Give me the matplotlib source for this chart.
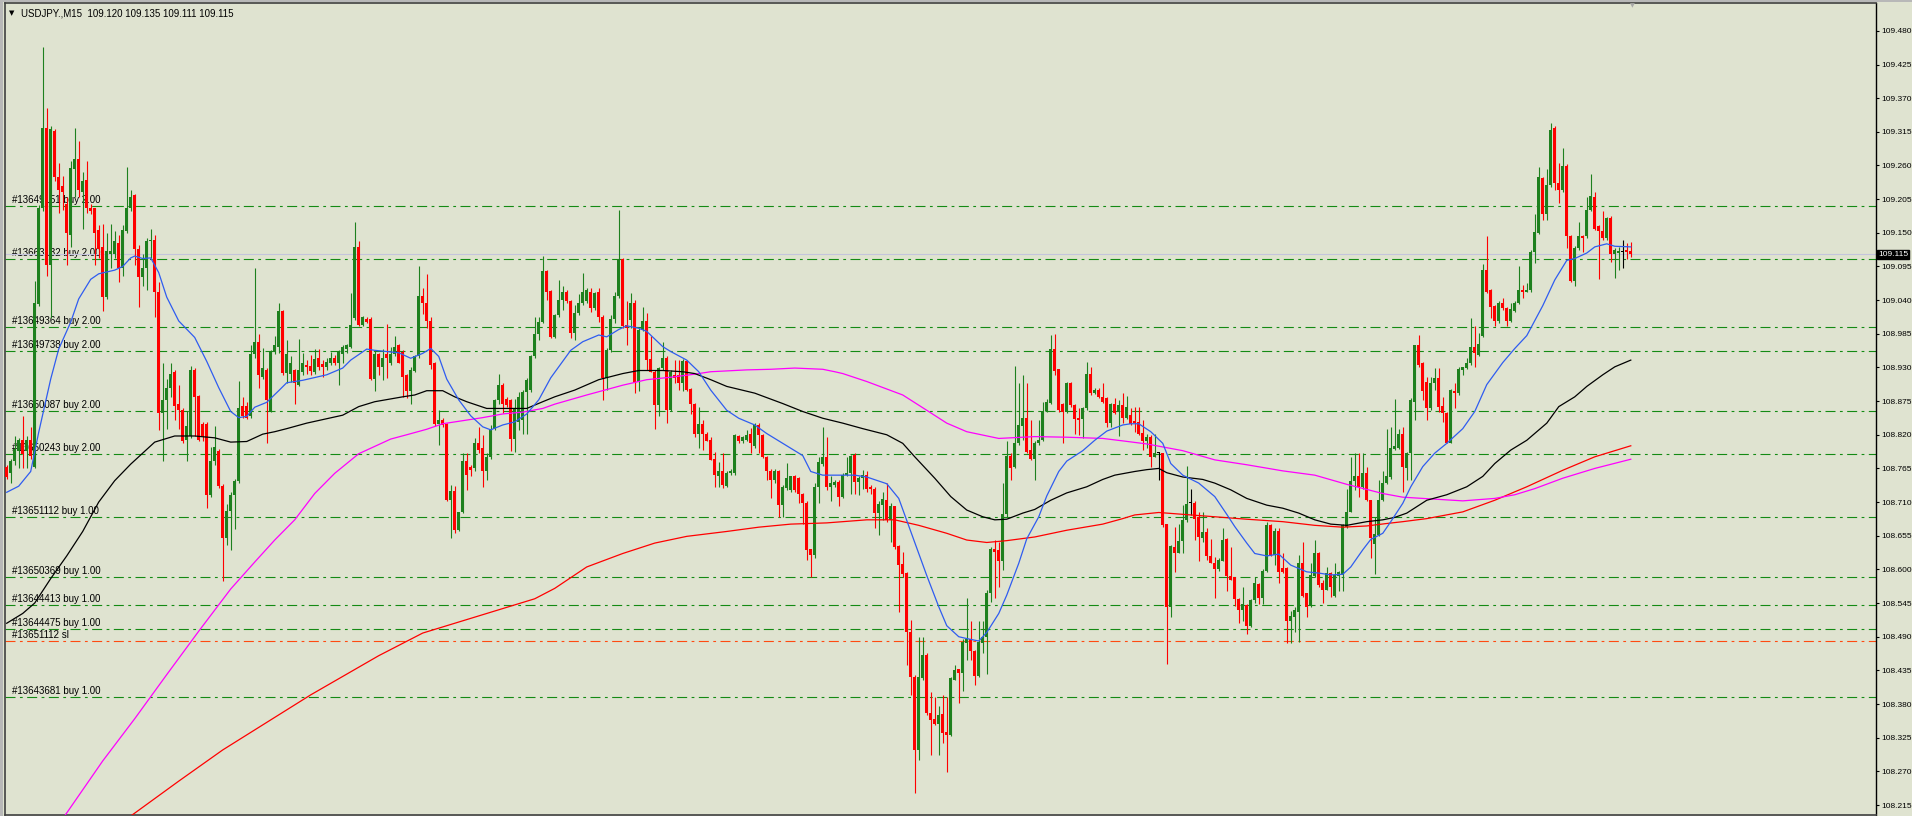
import numpy as np
import matplotlib.pyplot as plt
from matplotlib.patches import Rectangle

plt.rcParams['font.family'] = ['Liberation Sans', 'DejaVu Sans']

# USDJPY M15 candles, prices in points above 108.000 (1 point = 0.001)
base = 108.0
opens = [768,757,777,794,812,794,812,768,1034,1191, 1322,1098,1316,1241,1226,1197,1147,1255,1270,1217,
         1236,1190,1190,1155,1127,1045,1115,1115,1133,1092, 1153,1191,1212,1124,1077,1092,1136,1139,1054,856,
         876,896,923,871,861,812,818,926,884,838, 838,721,777,794,736,651,695,721,745,867,
         867,850,952,971,914,926,859,955,964,1022, 921,920,926,901,923,934,933,923,945,936,
         931,937,946,937,952,960,964,1010,1126,999, 1009,1009,911,952,931,952,937,952,966,956,
         918,891,925,948,1046,1035,1006,938,838,844, 838,713,728,664,693,777,768,765,807,798,
         760,783,830,877,901,878,877,813,841,844, 890,893,948,984,1005,1088,1055,980,1016,1040,
         1054,1039,986,1019,1035,1038,1054,1027,1054,1013, 912,959,1009,1046,1108,999,1008,1036,907,991,
         1006,943,923,869,929,945,861,918,918,904, 941,894,871,822,838,821,812,780,752,760,
         736,757,757,818,810,812,822,801,836,820, 784,761,746,761,705,733,730,752,749,724,
         708,633,624,735,773,784,735,738,743,719, 754,757,787,743,749,754,735,732,692,705,
         713,681,703,638,609,594,498,424,305,422, 460,366,355,348,364,335,329,420,437,430,
         479,487,467,426,480,490,561,634,632,613, 690,785,767,806,834,848,795,780,806,811,
         859,872,960,927,871,858,905,869,848,845, 863,920,889,893,882,880,839,871,858,869,
         848,852,843,841,823,809,816,784,790,790, 674,538,637,627,647,681,708,708,685,652,
         661,622,611,600,614,650,589,587,551,533, 542,507,550,576,554,598,673,623,663,603,
         603,516,523,531,610,561,540,589,626,577, 567,594,557,589,591,670,694,745,752,735,
         757,713,641,656,713,741,751,796,799,822, 765,790,874,966,937,907,863,904,912,867,
         856,807,892,888,926,929,937,963,950,981, 1089,1057,1030,1006,1035,1027,1006,1023,1035,1057,
         1054,1056,1119,1150,1239,1181,1228,1321,1232,1220, 1259,1145,1072,1125,1145,1144,1187,1208,1161,1153,
         1141,1175,1115,1117,1119,1122,1120]
highs = [770,780,818,815,850,818,832,1071,1195,1454, 1354,1325,1319,1264,1243,1209,1267,1322,1300,1249,
         1267,1197,1191,1162,1165,1150,1165,1153,1147,1162, 1258,1220,1214,1130,1115,1141,1156,1147,1069,937,
         911,937,926,902,864,859,932,929,885,841, 841,800,835,797,739,707,727,748,908,882,
         873,967,1092,984,961,929,958,981,1035,1024, 975,948,928,976,953,942,950,960,960,942,
         945,956,950,958,967,969,1051,1168,1137,1014, 1013,1013,958,953,960,1001,964,981,968,958,
         920,931,950,1096,1059,1083,1013,939,860,847, 839,738,736,694,791,790,771,814,833,820,
         790,836,879,919,905,882,878,878,890,893, 912,950,1013,1013,1112,1089,1057,1018,1073,1063,
         1057,1040,1032,1050,1084,1059,1059,1054,1059,1016, 961,1016,1054,1188,1109,1038,1051,1040,994,1029,
         1019,981,926,931,971,948,926,942,942,943, 942,896,872,866,844,824,817,792,776,790,
         760,764,822,820,818,828,831,839,839,822, 785,764,764,762,738,774,753,754,751,725,
         711,634,741,784,833,817,752,746,746,757, 784,787,790,752,762,761,738,735,711,727,
         742,709,704,640,629,595,518,427,490,490, 463,400,392,376,395,392,425,444,438,487,
         554,515,468,515,515,566,637,648,645,741, 809,790,932,904,918,904,844,809,844,874,
         878,983,985,928,872,907,907,871,863,865, 939,930,896,896,905,882,872,880,877,888,
         883,863,865,866,844,822,820,822,792,791, 675,640,670,675,705,769,732,711,693,693,
         667,649,620,618,667,651,637,588,553,572, 543,551,588,578,600,678,675,667,667,626,
         604,532,539,624,644,562,610,648,629,583, 604,596,610,598,674,732,783,791,791,791,
         768,714,686,746,761,830,832,878,829,832, 792,880,967,983,939,915,915,929,929,882,
         858,894,905,931,931,945,1010,997,986,1099, 1144,1058,1032,1038,1043,1029,1036,1038,1096,1065,
         1068,1122,1181,1257,1242,1255,1330,1324,1264,1288, 1262,1146,1128,1167,1147,1208,1246,1217,1163,1185,
         1176,1177,1125,1127,1138,1134,1135]
lows = [748,742,771,765,765,765,780,765,1030,1185, 1080,1010,1235,1182,1188,1098,1127,1209,1209,1156,
        1182,1180,1098,1109,1022,1042,1092,1109,1069,1080, 1150,1185,1098,1028,1063,1057,1109,1013,827,777,
        829,882,844,829,807,777,815,818,809,809, 701,718,771,733,581,640,631,666,742,847,
        845,847,946,897,911,806,857,952,953,918, 904,907,870,899,918,920,918,920,926,915,
        926,934,934,901,937,953,961,1008,997,998, 1003,909,892,918,909,912,934,948,937,881,
        880,870,923,945,1018,994,928,834,803,833, 711,652,659,663,692,730,752,761,790,734,
        746,781,828,870,855,865,794,792,828,822, 822,890,945,975,1002,1040,978,978,1013,1024,
        1035,978,975,1016,1032,1035,1021,1024,1005,877, 893,956,1002,1043,994,967,994,888,891,989,
        926,922,829,850,926,839,859,904,893,891, 891,854,817,798,795,809,778,735,735,733,
        734,754,754,806,806,809,790,798,790,782, 746,716,741,686,686,730,727,727,708,675,
        615,588,618,708,769,730,711,735,703,716, 752,724,723,722,732,727,724,667,656,681,
        678,644,634,531,588,444,395,235,289,419, 362,297,346,297,316,269,328,419,382,402,
        452,452,411,425,463,429,547,553,572,599, 686,746,765,803,811,790,779,746,803,810,
        858,871,918,858,806,855,866,822,820,814, 860,885,887,880,872,833,832,854,818,840,
        845,836,825,820,795,798,767,783,746,670, 445,523,595,626,627,678,689,648,613,644,
        615,610,554,598,613,564,582,540,512,516, 494,506,545,543,543,596,622,607,578,594,
        479,480,498,482,555,522,539,588,572,545, 566,555,555,564,564,667,693,729,719,732,
        711,618,592,655,711,740,747,795,796,727, 746,746,844,931,877,844,861,893,858,841,
        806,806,863,885,918,928,934,930,948,980, 1051,1010,998,1002,1024,997,1005,1021,1034,1043,
        1053,1054,1100,1148,1171,1171,1225,1220,1199,1217, 1125,1070,1063,1122,1118,1141,1185,1155,1074,1139,
        1138,1103,1076,1090,1092,1107,1111]
closes = [751,777,797,812,789,812,786,1036,1191,1322, 1098,1319,1241,1220,1217,1150,1256,1271,1220,1234,
          1191,1185,1150,1124,1045,1121,1121,1136,1092,1155, 1191,1209,1124,1077,1092,1136,1139,1054,856,876,
          896,920,867,861,809,835,926,882,812,818, 721,777,800,736,651,695,721,745,864,850,
          847,952,971,917,929,876,955,967,1022,921, 952,937,904,926,937,931,925,944,931,931,
          939,945,937,955,964,966,999,1126,999,1013, 1005,911,952,931,945,945,952,964,938,915,
          891,926,948,1046,1036,1006,934,838,844,836, 713,728,664,693,777,754,763,807,795,760,
          784,830,877,901,870,869,813,863,882,890, 909,948,984,1005,1087,1054,980,1016,1041,1054,
          1038,986,1019,1035,1054,1057,1027,1051,1013,912, 959,1009,1046,1108,997,994,1036,904,991,1006,
          942,923,869,929,945,861,923,912,904,941, 893,871,822,838,821,810,779,754,760,738,
          758,761,820,810,816,820,806,836,820,784, 761,746,761,705,734,750,752,730,724,708,
          632,624,735,776,784,735,741,743,719,754, 758,785,743,749,754,732,731,692,707,715,
          681,703,637,607,592,497,424,305,424,460, 365,354,348,362,332,329,422,436,430,482,
          487,466,426,482,490,562,634,629,613,690, 785,765,806,836,848,792,780,806,812,859,
          874,960,925,860,858,905,869,845,844,863, 920,889,893,882,874,839,871,856,869,847,
          865,838,839,822,809,816,784,791,790,673, 539,638,627,647,681,707,708,682,653,661,
          622,611,600,615,648,589,583,551,534,543, 507,550,577,554,598,673,623,663,596,596,
          516,524,533,610,557,539,591,626,575,567, 594,572,591,595,673,694,745,752,735,757,
          713,651,658,713,741,753,798,801,822,768, 790,877,966,934,892,863,904,912,866,856,
          807,893,888,927,930,937,964,953,969,1089, 1054,1028,1006,1035,1027,1006,1025,1036,1057,1054,
          1057,1119,1152,1242,1181,1228,1318,1231,1220,1259, 1144,1072,1125,1144,1141,1187,1210,1157,1153,1141,
          1174,1115,1122,1121,1119,1118,1115]

# moving averages read at sample bars (bar index, points above 108.000)
blue_idx = [0,3,6,8,11,13,16,18,21,23,27,29,31,32,34,36,38,40,43,47,50,53,56,58,60,62,65,68,70,74,
            80,84,86,90,92,95,98,101,104,106,108,110,113,116,119,121,124,127,130,133,136,139,141,144,148,150,
            153,155,158,160,164,166,170,173,176,180,183,187,190,194,199,201,204,207,210,212,215,220,223,225,
            228,230,233,235,238,240,243,245,248,250,253,255,258,260,263,265,269,272,275,279,281,283,286,289,
            291,294,298,302,305,307,310,312,315,318,321,325,328,331,334,336,339,341,344,346,349,351,354,357,
            360,364,367,370,374,377,380,384,387,390,392,395,397,400,402,406]
blue_val = [726,736,760,824,911,960,1004,1042,1074,1083,1089,1095,1109,1112,1108,1109,1085,1045,1006,979,
            940,897,858,848,850,865,873,892,905,909,918,929,942,960,958,956,954,945,953,961,
            948,911,877,851,833,828,836,841,854,877,913,940,958,972,983,980,992,998,994,989,
            964,956,942,923,893,860,847,836,822,806,786,760,754,754,754,754,751,740,716,680,
            626,590,539,508,490,487,483,497,528,558,610,650,686,720,760,777,794,811,826,836,
            838,838,825,806,773,754,741,719,690,670,643,626,622,625,607,596,594,591,592,604,
            632,649,659,678,708,735,768,790,806,830,858,902,938,961,982,1031,1073,1105,1108,1117,
            1127,1132,1128,1127]
black_idx = [0,4,7,11,15,19,23,27,31,35,37,42,47,52,56,60,64,67,70,75,84,88,92,99,102,105,109,112,115,120,
             130,134,137,142,148,154,158,164,169,172,176,180,187,194,199,204,209,214,220,224,227,232,236,240,
             244,247,250,254,257,261,265,270,274,277,282,285,288,290,294,299,302,306,310,315,319,323,327,331,
             335,340,344,347,350,355,360,365,369,372,376,380,385,388,392,395,399,402,406]
black_val = [512,528,545,585,622,662,710,745,772,796,808,818,818,815,808,809,821,825,830,839,
             852,866,874,882,885,892,892,882,874,863,863,874,882,893,910,920,925,925,923,920,
             910,899,888,871,858,847,839,830,820,806,784,749,719,697,686,681,682,692,698,713,
             725,735,747,754,760,763,765,758,751,747,741,730,716,705,700,692,681,674,672,678,
             681,685,692,713,722,735,752,773,795,811,839,866,882,899,918,931,942]
magenta_idx = [0,15,24,32,40,48,56,62,67,72,77,82,88,92,96,100,105,109,114,119,124,129,134,137,145,154,
               160,166,172,176,185,191,197,204,207,209,215,224,230,235,240,248,257,265,274,279,285,294,
               302,310,319,327,335,344,349,354,364,372,377,382,389,397,406]
magenta_val = [68,202,287,356,428,499,568,612,648,681,724,757,789,801,813,820,829,838,843,848,
               854,857,863,870,885,901,910,914,919,923,926,927,929,927,923,920,907,885,860,839,
               825,814,817,816,814,810,805,794,779,771,761,754,739,724,718,716,712,716,722,732,
               749,765,780]
red_idx = [20,31,43,54,65,76,93,104,121,132,137,145,154,162,170,180,188,196,205,209,215,222,228,235,240,
           245,250,257,265,274,279,282,288,294,302,310,319,327,334,340,345,349,355,364,372,380,389,397,406]
red_val = [120,197,254,305,350,395,459,496,530,552,569,604,626,643,654,662,669,674,676,678,
           681,681,672,659,648,644,647,653,664,674,683,689,693,690,686,682,678,672,669,671,
           675,678,683,694,713,735,762,784,802]

order_labels = ['#13649151 buy 2.00', '#13663132 buy 2.00', '#13649364 buy 2.00', '#13649738 buy 2.00',
                '#13650087 buy 2.00', '#13650243 buy 2.00', '#13651112 buy 1.00', '#13650369 buy 1.00',
                '#13644413 buy 1.00', '#13644475 buy 1.00', '#13651112 sl', '#13643681 buy 1.00']
order_prices = [109.194, 109.108, 108.996, 108.957, 108.859, 108.789, 108.686, 108.588,
                108.542, 108.503, 108.483, 108.391]
bid = 109.115
header = 'USDJPY.,M15  109.120 109.135 109.111 109.115'
tick_values = np.round(108.215 + 0.055 * np.arange(24), 3)

bg = '#dfe3d0'
W, H = 1912, 816
fig = plt.figure(figsize=(W / 100, H / 100), dpi=100, facecolor=bg)
ax = fig.add_axes([5 / W, 1 / H, (1876 - 5) / W, 812 / H])
ax.set_facecolor(bg)

# window frame strip at the left and top
fig.patches.append(Rectangle((0, 0), 3 / W, 1, transform=fig.transFigure, fc='#b8b8b8', ec='none'))
fig.patches.append(Rectangle((0, 1 - 2 / H), 1, 2 / H, transform=fig.transFigure, fc='#b8b8b8', ec='none'))

o = base + np.array(opens) / 1000
h = base + np.array(highs) / 1000
l = base + np.array(lows) / 1000
c = base + np.array(closes) / 1000
x = np.arange(len(o))

green = '#1e801e'
col = np.where(c > o, green, np.where(c < o, '#ff0000', '#000000'))

# order lines
for lab, p in zip(order_labels, order_prices):
    lc = '#ff4a10' if lab.endswith('sl') else '#148a14'
    ax.axhline(p, color=lc, lw=0.8, dashes=(9, 4, 2.5, 4), zorder=1)
    ax.annotate(lab, xy=(0, p), xycoords=('axes fraction', 'data'), xytext=(7, 1),
                textcoords='offset pixels', fontsize=7, va='bottom', ha='left', zorder=1)
ax.axhline(bid, color='#c4c4dc', lw=0.8, zorder=1.5)

# candles
ax.vlines(x, l, h, colors=col, lw=0.8, zorder=3)
body_lo = np.minimum(o, c)
body_h = np.maximum(np.abs(c - o), 0.0015)
ax.bar(x, body_h, bottom=body_lo, width=0.72, color=col, linewidth=0, zorder=3)

# moving averages
ax.plot(red_idx, base + np.array(red_val) / 1000, color='#ff0000', lw=0.9, zorder=4)
ax.plot(magenta_idx, base + np.array(magenta_val) / 1000, color='#ff00ff', lw=0.9, zorder=4)
ax.plot(black_idx, base + np.array(black_val) / 1000, color='#000000', lw=0.9, zorder=4)
ax.plot(blue_idx, base + np.array(blue_val) / 1000, color='#2f5cf0', lw=0.9, zorder=4)

ax.set_xlim(-0.425, 467.3)
ax.set_ylim(108.1987, 109.5255)
ax.set_xticks([])
ax.yaxis.tick_right()
ax.set_yticks(tick_values)
ax.set_yticklabels([f'{v:.3f}' for v in tick_values])
ax.tick_params(axis='y', length=2.2, width=0.8, pad=1.4, labelsize=6, colors='black')
for s in ['left', 'top', 'bottom']:
    ax.spines[s].set_color('#404040')
    ax.spines[s].set_linewidth(1.2)
ax.spines['right'].set_color('black')
ax.spines['right'].set_linewidth(1)

# current price box on the axis
ax.annotate(f'{bid:.3f}', xy=(1, bid), xycoords=('axes fraction', 'data'), xytext=(2, 0),
            textcoords='offset pixels', fontsize=6, va='center', ha='left', color='white',
            bbox=dict(boxstyle='square,pad=0.1', fc='black', ec='black'), zorder=6)

fig.text(9 / W, 1 - 13 / H, '\u25bc', fontsize=5, va='center', ha='left', family='DejaVu Sans')
fig.text(21 / W, 1 - 13 / H, header, fontsize=7, va='center', ha='left')
# chart shift marker
fig.text(1632 / W, 1 - 6 / H, '\u25bc', fontsize=4.5, va='center', ha='center', color='#a8a8a8',
         family='DejaVu Sans')

fig.savefig('out.png', dpi=100, facecolor=bg)
